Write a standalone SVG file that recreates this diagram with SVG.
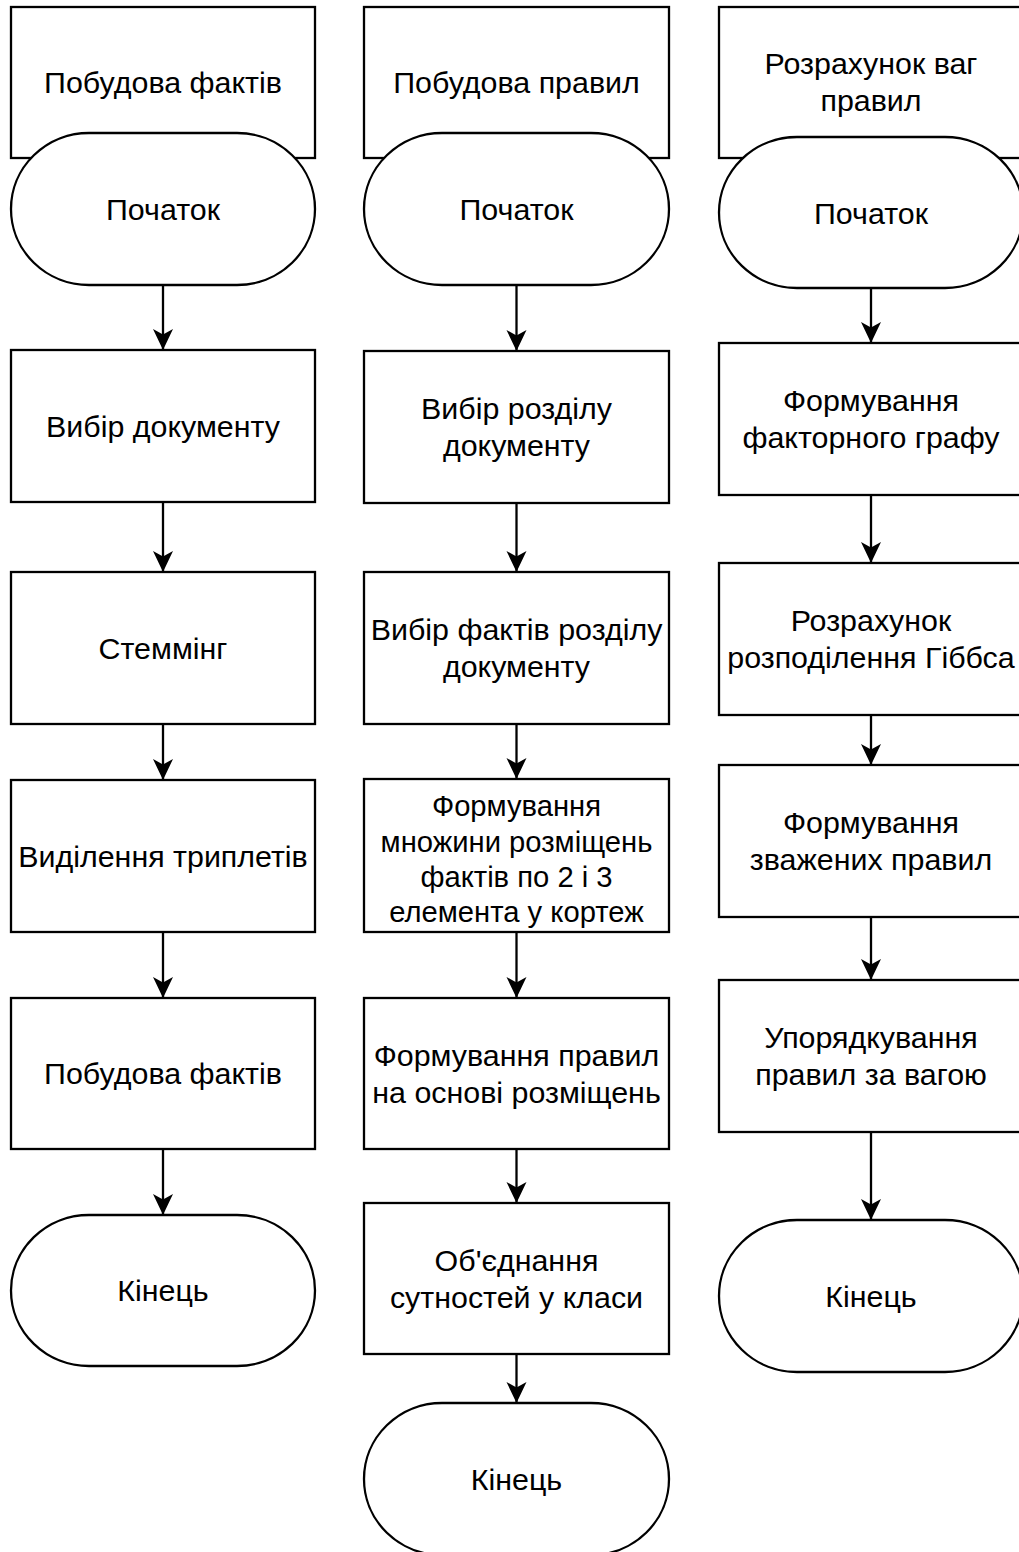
<svg xmlns="http://www.w3.org/2000/svg" width="1019" height="1552" viewBox="0 0 1019 1552">
<style>
.box{fill:#fff;stroke:#000;stroke-width:2.3}
.t{font-family:"Liberation Sans",Arial,Helvetica,sans-serif;font-size:30.4px;fill:#000;text-anchor:middle}
.s{font-size:29.2px}
.edge{stroke:#000;stroke-width:2.3;fill:none;marker-end:url(#arr)}
</style>
<defs>
<marker id="arr" markerUnits="userSpaceOnUse" markerWidth="22" markerHeight="22" viewBox="0 0 22 22" refX="21" refY="11" orient="auto">
<path d="M0,1 L21,11 L0,21 L5.5,11 Z" fill="#000"/>
</marker>
</defs>
<rect width="1019" height="1552" fill="#fff"/>

<g id="col1">
<g id="n1_title"><rect class="box" x="11" y="7" width="304" height="151"/><text class="t" x="163" y="93">Побудова фактів</text></g>
<g id="n1_start"><rect class="box" x="11" y="133" width="304" height="152" rx="78" ry="76"/><text class="t" x="163" y="220">Початок</text></g>
<g id="n1_a"><rect class="box" x="11" y="350" width="304" height="152"/><text class="t" x="163" y="437">Вибір документу</text></g>
<g id="n1_b"><rect class="box" x="11" y="572" width="304" height="152"/><text class="t" x="163" y="659">Стеммінг</text></g>
<g id="n1_c"><rect class="box" x="11" y="780" width="304" height="152"/><text class="t" x="163" y="867">Виділення триплетів</text></g>
<g id="n1_d"><rect class="box" x="11" y="998" width="304" height="151"/><text class="t" x="163" y="1084">Побудова фактів</text></g>
<g id="n1_end"><rect class="box" x="11" y="1215" width="304" height="151" rx="78" ry="75.5"/><text class="t" x="163" y="1301">Кінець</text></g>
</g>

<g id="col2">
<g id="n2_title"><rect class="box" x="364" y="7" width="305" height="151"/><text class="t" x="516.5" y="93">Побудова правил</text></g>
<g id="n2_start"><rect class="box" x="364" y="133" width="305" height="152" rx="78" ry="76"/><text class="t" x="516.5" y="220">Початок</text></g>
<g id="n2_a"><rect class="box" x="364" y="351" width="305" height="152"/><text class="t" x="516.5" y="419">Вибір розділу</text><text class="t" x="516.5" y="456">документу</text></g>
<g id="n2_b"><rect class="box" x="364" y="572" width="305" height="152"/><text class="t" x="516.5" y="640">Вибір фактів розділу</text><text class="t" x="516.5" y="677">документу</text></g>
<g id="n2_c"><rect class="box" x="364" y="779" width="305" height="153"/><text class="t s" x="516.5" y="816">Формування</text><text class="t s" x="516.5" y="851.5">множини розміщень</text><text class="t s" x="516.5" y="887">фактів по 2 і 3</text><text class="t s" x="516.5" y="922">елемента у кортеж</text></g>
<g id="n2_d"><rect class="box" x="364" y="998" width="305" height="151"/><text class="t" x="516.5" y="1066">Формування правил</text><text class="t" x="516.5" y="1103">на основі розміщень</text></g>
<g id="n2_e"><rect class="box" x="364" y="1203" width="305" height="151"/><text class="t" x="516.5" y="1271">Об'єднання</text><text class="t" x="516.5" y="1308">сутностей у класи</text></g>
<g id="n2_end"><rect class="box" x="364" y="1403" width="305" height="152" rx="78" ry="76"/><text class="t" x="516.5" y="1490">Кінець</text></g>
</g>

<g id="col3">
<g id="n3_title"><rect class="box" x="719" y="7" width="304" height="151"/><text class="t" x="871" y="74">Розрахунок ваг</text><text class="t" x="871" y="111">правил</text></g>
<g id="n3_start"><rect class="box" x="719" y="137" width="304" height="151" rx="78" ry="75.5"/><text class="t" x="871" y="224">Початок</text></g>
<g id="n3_a"><rect class="box" x="719" y="343" width="304" height="152"/><text class="t" x="871" y="411">Формування</text><text class="t" x="871" y="448">факторного графу</text></g>
<g id="n3_b"><rect class="box" x="719" y="563" width="304" height="152"/><text class="t" x="871" y="631">Розрахунок</text><text class="t" x="871" y="668">розподілення Гіббса</text></g>
<g id="n3_c"><rect class="box" x="719" y="765" width="304" height="152"/><text class="t" x="871" y="833">Формування</text><text class="t" x="871" y="870">зважених правил</text></g>
<g id="n3_d"><rect class="box" x="719" y="980" width="304" height="152"/><text class="t" x="871" y="1048">Упорядкування</text><text class="t" x="871" y="1085">правил за вагою</text></g>
<g id="n3_end"><rect class="box" x="719" y="1220" width="304" height="152" rx="78" ry="76"/><text class="t" x="871" y="1307">Кінець</text></g>
</g>

<g id="connectors">
<path class="edge" d="M163,285 V350"/>
<path class="edge" d="M163,502 V572"/>
<path class="edge" d="M163,724 V780"/>
<path class="edge" d="M163,932 V998"/>
<path class="edge" d="M163,1149 V1215"/>
<path class="edge" d="M516.5,285 V351"/>
<path class="edge" d="M516.5,503 V572"/>
<path class="edge" d="M516.5,724 V779"/>
<path class="edge" d="M516.5,932 V998"/>
<path class="edge" d="M516.5,1149 V1203"/>
<path class="edge" d="M516.5,1354 V1403"/>
<path class="edge" d="M871,288 V343"/>
<path class="edge" d="M871,495 V563"/>
<path class="edge" d="M871,715 V765"/>
<path class="edge" d="M871,917 V980"/>
<path class="edge" d="M871,1132 V1220"/>
</g>
</svg>
